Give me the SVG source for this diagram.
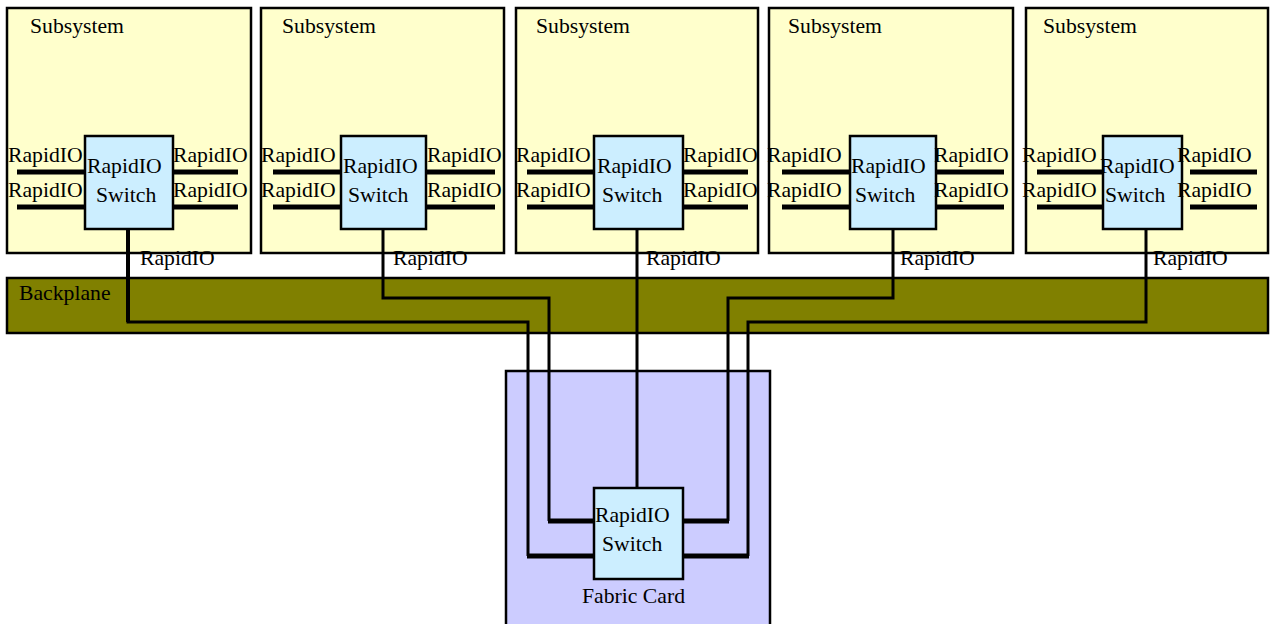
<svg xmlns="http://www.w3.org/2000/svg" width="1270" height="624" viewBox="0 0 1270 624">
  <style>
    text { font-family: "Liberation Serif", "Times New Roman", serif; font-size: 21.7px; fill: #000; }
    .sub { fill: #ffffcc; stroke: #000; stroke-width: 2.5; }
    .sw { fill: #cceeff; stroke: #000; stroke-width: 2.5; }
    .port { stroke: #000; stroke-width: 5; fill: none; }
    .wire { stroke: #000; stroke-width: 3; fill: none; }
  </style>
  <rect width="1270" height="624" fill="#fff"/>

  <!-- backplane -->
  <g id="backplane">
    <rect x="7" y="278" width="1261" height="55" fill="#808000" stroke="#000" stroke-width="2.5"/>
    <text x="19" y="300">Backplane</text>
  </g>

  <!-- fabric card -->
  <g id="fabric-card">
    <rect x="506" y="371" width="264" height="260" fill="#ccccff" stroke="#000" stroke-width="2.5"/>
    <text x="582" y="603">Fabric Card</text>
  </g>

  <!-- subsystem 1 -->
  <g id="subsystem-1">
    <rect class="sub" x="7" y="8" width="244" height="245"/>
    <text x="30" y="33">Subsystem</text>
    <path class="port" d="M17 172H85M17 207H85M173 172H238M173 207H238"/>
    <rect class="sw" x="85" y="136" width="88" height="93"/>
    <text x="8" y="162">RapidIO</text>
    <text x="8" y="197">RapidIO</text>
    <text x="173" y="162">RapidIO</text>
    <text x="173" y="197">RapidIO</text>
    <text x="87" y="173">RapidIO</text>
    <text x="96" y="202">Switch</text>
  </g>

  <!-- subsystem 2 -->
  <g id="subsystem-2">
    <rect class="sub" x="261" y="8" width="243" height="245"/>
    <text x="282" y="33">Subsystem</text>
    <path class="port" d="M273 172H341M273 207H341M426 172H495M426 207H495"/>
    <rect class="sw" x="341" y="136" width="85" height="93"/>
    <text x="261" y="162">RapidIO</text>
    <text x="261" y="197">RapidIO</text>
    <text x="427" y="162">RapidIO</text>
    <text x="427" y="197">RapidIO</text>
    <text x="343" y="173">RapidIO</text>
    <text x="348" y="202">Switch</text>
  </g>

  <!-- subsystem 3 -->
  <g id="subsystem-3">
    <rect class="sub" x="516" y="8" width="242" height="245"/>
    <text x="536" y="33">Subsystem</text>
    <path class="port" d="M527 172H594M527 207H594M683 172H748M683 207H748"/>
    <rect class="sw" x="594" y="136" width="89" height="93"/>
    <text x="516" y="162">RapidIO</text>
    <text x="516" y="197">RapidIO</text>
    <text x="683" y="162">RapidIO</text>
    <text x="683" y="197">RapidIO</text>
    <text x="597" y="173">RapidIO</text>
    <text x="602" y="202">Switch</text>
  </g>

  <!-- subsystem 4 -->
  <g id="subsystem-4">
    <rect class="sub" x="769" y="8" width="244" height="245"/>
    <text x="788" y="33">Subsystem</text>
    <path class="port" d="M782 172H850M782 207H850M936 172H1004M936 207H1004"/>
    <rect class="sw" x="850" y="136" width="86" height="93"/>
    <text x="767" y="162">RapidIO</text>
    <text x="767" y="197">RapidIO</text>
    <text x="934" y="162">RapidIO</text>
    <text x="934" y="197">RapidIO</text>
    <text x="851" y="173">RapidIO</text>
    <text x="855" y="202">Switch</text>
  </g>

  <!-- subsystem 5 -->
  <g id="subsystem-5">
    <rect class="sub" x="1026" y="8" width="242" height="245"/>
    <text x="1043" y="33">Subsystem</text>
    <path class="port" d="M1037 172H1103M1037 207H1103M1190 172H1257M1190 207H1257"/>
    <rect class="sw" x="1103" y="136" width="79" height="93"/>
    <text x="1022" y="162">RapidIO</text>
    <text x="1022" y="197">RapidIO</text>
    <text x="1177" y="162">RapidIO</text>
    <text x="1177" y="197">RapidIO</text>
    <text x="1100" y="173">RapidIO</text>
    <text x="1105" y="202">Switch</text>
  </g>

  <!-- backplane links from each subsystem switch to the fabric switch -->
  <g id="connectors">
    <path class="wire" d="M128 229V322H528V556"/>
    <path d="M128 229V322" stroke="#000" stroke-width="4"/>
    <path class="wire" d="M383 229V298H549V521"/>
    <path class="wire" d="M637 229V488"/>
    <path class="wire" d="M893 229V298H728V521"/>
    <path class="wire" d="M1146 229V322H748V556"/>
    <path class="port" d="M527 556H594M548 521H594M683 521H729M683 556H749"/>
    <text x="140" y="265">RapidIO</text>
    <text x="393" y="265">RapidIO</text>
    <text x="646" y="265">RapidIO</text>
    <text x="900" y="265">RapidIO</text>
    <text x="1153" y="265">RapidIO</text>
  </g>

  <!-- fabric switch -->
  <g id="fabric-switch">
    <rect class="sw" x="594" y="488" width="89" height="91"/>
    <text x="595" y="522">RapidIO</text>
    <text x="602" y="551">Switch</text>
  </g>
</svg>
